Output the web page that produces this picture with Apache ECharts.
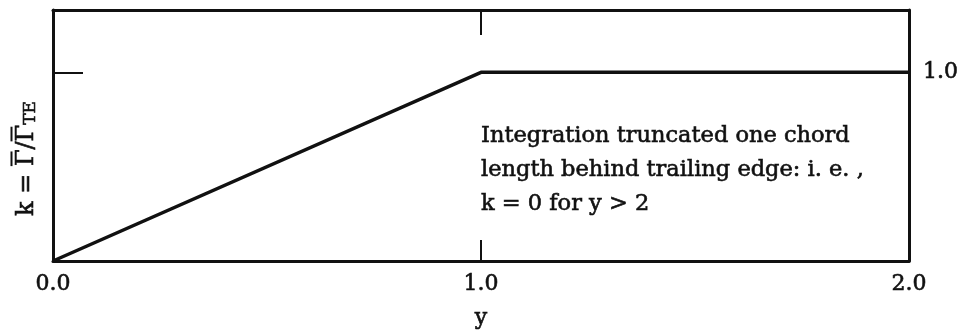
<!DOCTYPE html>
<html>
<head>
<meta charset="utf-8">
<script src="https://cdn.jsdelivr.net/npm/echarts@6/dist/echarts.min.js"></script>
<style>
  html, body { margin: 0; padding: 0; background: #fff; }
  #chart { width: 962px; height: 332px; }
</style>
</head>
<body>
<div id="chart"></div>
<script>
// Ratio k along the wake coordinate y: linear ramp to 1.0, then flat
const yValues = [0.0, 1.0, 2.0];
const kValues = [0.0, 1.0, 1.0];

const xTickValues = [0, 1, 2];
const kTickValues = [1];

const noteLines = [
  'Integration truncated one chord',
  'length behind trailing edge: i. e. ,',
  'k = 0 for y > 2'
];
const notePoint = [1.0, 0.48];

const ink = '#111';
const serifName = 'DejaVu Serif';
const serif = '"DejaVu Serif", "Liberation Serif", serif';
// heavier strokes for the printed-type look
const heavy = { textBorderColor: ink, textBorderWidth: 0.6 };

// k = Γ̄/Γ̄_TE : overbars drawn as thin filled rich-text boxes above each Γ
const mainSize = 24, subSize = 17;
const ctx = document.createElement('canvas').getContext('2d');
function textWidth(str, size) {
  ctx.font = size + 'px "' + serifName + '"';
  return ctx.measureText(str).width;
}
const wK = textWidth('k = ', mainSize);
const wG = textWidth('Γ', mainSize);
const wSlash = textWidth('/', mainSize);
const wTE = textWidth('TE', subSize);
const kName =
  '{sp0|}{bar|}{sp1|}{bar|}{sp2|}\n' +
  '{m|k = Γ/Γ}{s|TE}';
const kRich = {
  sp0: { width: wK, height: 3, lineHeight: 3 },
  bar: { width: wG - 2, height: 2, lineHeight: 3, backgroundColor: ink },
  sp1: { width: wSlash + 2, height: 3, lineHeight: 3 },
  sp2: { width: wTE + 2, height: 3, lineHeight: 3 },
  m: Object.assign({ fontSize: mainSize, fontFamily: serif, color: ink, verticalAlign: 'bottom', lineHeight: 26 }, heavy),
  s: Object.assign({ fontSize: subSize, fontFamily: serif, color: ink, verticalAlign: 'bottom', lineHeight: 20 }, heavy)
};

const chart = echarts.init(document.getElementById('chart'), null, { renderer: 'canvas' });

const frameLine = { show: true, onZero: false, lineStyle: { color: ink, width: 3 } };

chart.setOption({
  animation: false,
  backgroundColor: '#fff',
  grid: { left: 53, right: 53, top: 10, bottom: 71, containLabel: false, outerBoundsMode: 'none' },
  xAxis: [
    {
      type: 'value', position: 'bottom', min: 0, max: 2, interval: 1,
      axisLine: frameLine,
      axisTick: { show: true, inside: true, length: 21, customValues: [1], lineStyle: { color: ink, width: 2 } },
      axisLabel: Object.assign({
        customValues: xTickValues, margin: 12, color: ink, fontSize: 22, fontFamily: serif,
        formatter: v => v.toFixed(1)
      }, heavy),
      splitLine: { show: false },
      name: 'y', nameLocation: 'middle', nameGap: 46,
      nameTextStyle: Object.assign({ color: ink, fontSize: 22, fontFamily: serif }, heavy)
    },
    {
      type: 'value', position: 'top', min: 0, max: 2, interval: 1,
      axisLine: frameLine,
      axisTick: { show: true, inside: true, length: 25, customValues: [1], lineStyle: { color: ink, width: 2 } },
      axisLabel: { show: false },
      splitLine: { show: false }
    }
  ],
  yAxis: [
    {
      type: 'value', position: 'left', min: 0, max: 1.33, interval: 1,
      axisLine: frameLine,
      axisTick: { show: true, inside: true, length: 30, customValues: kTickValues, lineStyle: { color: ink, width: 2 } },
      axisLabel: { show: false },
      splitLine: { show: false },
      name: kName, nameLocation: 'middle', nameGap: 14,
      nameTextStyle: {
        color: ink, fontFamily: serif, padding: [0, 46, 0, 0],
        rich: kRich
      }
    },
    {
      type: 'value', position: 'right', min: 0, max: 1.33, interval: 1,
      axisLine: frameLine,
      axisTick: { show: false },
      axisLabel: Object.assign({
        customValues: kTickValues, margin: 14, color: ink, fontSize: 22, fontFamily: serif,
        formatter: v => v.toFixed(1)
      }, heavy),
      splitLine: { show: false }
    }
  ],
  series: [
    {
      type: 'line',
      data: yValues.map((y, i) => [y, kValues[i]]),
      showSymbol: false,
      lineStyle: { color: ink, width: 3.5 },
      z: 3
    },
    {
      type: 'scatter',
      data: [notePoint],
      symbolSize: 0,
      silent: true,
      itemStyle: { opacity: 1 },
      label: Object.assign({
        show: true, position: 'right', distance: 0,
        align: 'left', verticalAlign: 'middle', opacity: 1,
        formatter: () => noteLines.join('\n'),
        color: ink, fontSize: 22.5, lineHeight: 34, fontFamily: serif
      }, heavy)
    }
  ]
});
</script>
</body>
</html>
